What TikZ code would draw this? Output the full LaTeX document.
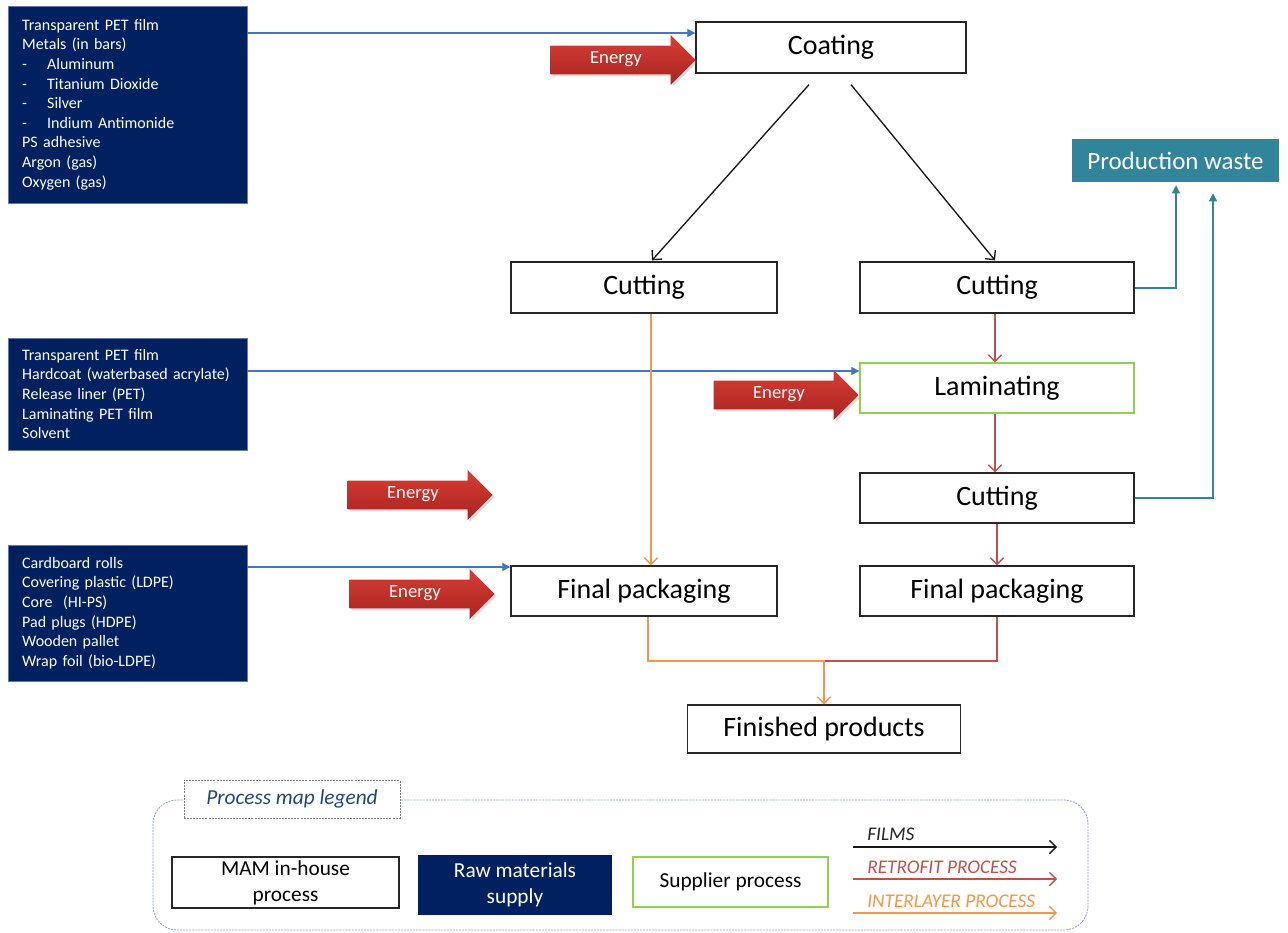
\documentclass[tikz,border=0pt]{standalone}
\usepackage{fontspec}
\setmainfont{Carlito}
\usetikzlibrary{arrows.meta,shapes.arrows,shadows,calc}
\definecolor{navy}{RGB}{0,32,96}
\definecolor{flowblue}{RGB}{68,114,196}
\definecolor{wteal}{RGB}{49,133,155}
\definecolor{retro}{RGB}{192,80,77}
\definecolor{inter}{RGB}{247,150,70}
\definecolor{suppl}{RGB}{146,208,80}
\definecolor{enlight}{RGB}{214,62,52}
\definecolor{endark}{RGB}{168,36,32}
\definecolor{legline}{RGB}{140,160,190}
\definecolor{legtext}{RGB}{31,73,125}
\begin{document}
\begin{tikzpicture}[x=0.75pt,y=-0.75pt,
 proc/.style={draw=black!85, line width=1pt, fill=white, inner sep=0pt, font=\fontsize{21}{25}\selectfont},
 supp/.style={proc, draw=suppl},
 raw/.style={fill=navy, draw=navy!60!white, line width=0.5pt, text=white, align=left, text width=158pt, inner xsep=10.5pt, inner ysep=0pt, font=\fontsize{12}{14.7}\selectfont},
 energy/.style={single arrow, single arrow head extend=8pt, minimum height=108.75pt, inner ysep=5.8pt, inner xsep=4pt, text height=7pt, text depth=2.5pt, text=white, font=\fontsize{14}{16}\selectfont, top color=enlight, bottom color=endark, draw=none, drop shadow={opacity=0.25, shadow xshift=1.5pt, shadow yshift=-1.5pt}, anchor=tip},
 filmarr/.style={draw=black!90, line width=1pt, -{Straight Barb[length=5pt,width=10pt]}},
 retroarr/.style={draw=retro, line width=1pt, -{Straight Barb[length=5pt,width=10pt]}},
 interarr/.style={draw=inter, line width=1pt, -{Straight Barb[length=5pt,width=10pt]}},
 supplyarr/.style={draw=flowblue, line width=0.9pt, -{Triangle[length=6pt,width=6pt]}},
 wastearr/.style={draw=wteal, line width=1pt, -{Triangle[length=6pt,width=6pt]}},
 legbox/.style={minimum width=#1, inner sep=0pt, align=center, font=\fontsize{16}{19.5}\selectfont},
 leglabel/.style={anchor=base west, inner sep=0pt, font=\itshape\fontsize{14.5}{17}\selectfont}
]
\useasboundingbox (0,0) rectangle (1288,932);
\fill[white] (0,0) rectangle (1288,932);

% raw material boxes
\node[raw, minimum height=147.75pt] (raw1) at (127.5,104.5) {Transparent PET film\\Metals (in bars)\\
\makebox[18.75pt][l]{-}Aluminum\\
\makebox[18.75pt][l]{-}Titanium Dioxide\\
\makebox[18.75pt][l]{-}Silver\\
\makebox[18.75pt][l]{-}Indium Antimonide\\
PS adhesive\\Argon (gas)\\Oxygen (gas)};
\node[raw, minimum height=84pt] (raw2) at (127.5,394) {Transparent PET film\\Hardcoat (waterbased acrylate)\\Release liner (PET)\\Laminating PET film\\Solvent};
\node[raw, minimum height=102pt] (raw3) at (127.5,613) {Cardboard rolls\\Covering plastic (LDPE)\\Core~~(HI-PS)\\Pad plugs (HDPE)\\Wooden pallet\\Wrap foil (bio-LDPE)};

% process boxes
\node[proc, minimum width=202.5pt, minimum height=38.25pt] (coat) at (831,47.5) {Coating};
\node[proc, minimum width=199.5pt, minimum height=38.25pt] (cut1) at (644,287.5) {Cutting};
\node[proc, minimum width=205.5pt, minimum height=38.25pt] (cut2) at (997,287.5) {Cutting};
\node[supp, minimum width=205.5pt, minimum height=37.5pt] (lam) at (997,388) {Laminating};
\node[proc, minimum width=205.5pt, minimum height=37.5pt] (cut3) at (997,498) {Cutting};
\node[proc, minimum width=199.5pt, minimum height=37.5pt] (fp1) at (644,591) {Final packaging};
\node[proc, minimum width=205.5pt, minimum height=37.5pt] (fp2) at (997,591) {Final packaging};
\node[proc, minimum width=204.75pt, minimum height=36pt] (fin) at (824,729) {Finished products};
\node[fill=wteal, text=white, minimum width=155.25pt, minimum height=32.25pt, inner sep=0pt, font=\fontsize{18.7}{22}\selectfont] (prod) at (1175.5,160.5) {Production waste};

% energy arrows
\node[energy] (en1) at (696,60) {Energy};
\node[energy] (en2) at (859,395) {Energy};
\node[energy] (en3) at (493,495) {Energy};
\node[energy] (en4) at (495,594) {Energy};

% supply connectors
\draw[supplyarr] (raw1.east |- 0,33) -- (coat.west |- 0,33);
\draw[supplyarr] (raw2.east |- 0,371) -- (lam.west |- 0,371);
\draw[supplyarr] (raw3.east |- 0,567) -- (fp1.west |- 0,567);

% film connectors
\draw[filmarr] ($(coat.south)+(-22,11)$) -- ($(cut1.north)+(8,-1)$);
\draw[filmarr] ($(coat.south)+(20,11)$) -- ($(cut2.north)+(-2,-1)$);

% interlayer
\draw[interarr] ($(cut1.south)+(7,0)$) -- ($(fp1.north)+(7,0)$);
% retrofit
\draw[retroarr] ($(cut2.south)+(-2,0)$) -- ($(lam.north)+(-2,0)$);
\draw[retroarr] ($(lam.south)+(-2,0)$) -- ($(cut3.north)+(-2,0)$);
\draw[retroarr] (cut3.south) -- (fp2.north);

% waste
\draw[wastearr] (cut2.east |- 0,288) -| ($(prod.south)+(0.5,3)$);
\draw[wastearr] (cut3.east |- 0,498) -| ($(prod.south)+(37.5,11)$);

% merge to finished
\coordinate (merge) at (fin.north |- 0,661);
\draw[draw=retro, line width=1pt] (fp2.south) |- (merge);
\draw[interarr] ($(fp1.south)+(4,0)$) |- (merge) -- (fin.north);

% legend
\draw[legline, dash pattern=on 1.5pt off 0.8pt, line width=0.6pt, rounded corners=18pt] (153,800) rectangle (1088,930);
\node[draw=gray, dash pattern=on 1.5pt off 0.8pt, fill=white, minimum width=162pt, minimum height=28.5pt, inner sep=0pt, font=\itshape\fontsize{16}{19}\selectfont, text=legtext] (legtitle) at (292,799) {Process map legend};
\node[proc, legbox=170.25pt, minimum height=38.25pt] (legmam) at (285.5,882.5) {MAM in-house\\process};
\node[fill=navy, text=white, legbox=145.5pt, minimum height=45pt] (legraw) at (515,885) {Raw materials\\supply};
\node[supp, legbox=146.25pt, minimum height=37.5pt] (legsup) at (730.5,882) {Supplier process};

\coordinate (f0) at (853,847); \coordinate (f1) at (1057,847);
\coordinate (r0) at (853,879); \coordinate (r1) at (1057,879);
\coordinate (i0) at (853,913); \coordinate (i1) at (1057,913);
\draw[filmarr] (f0) -- (f1);
\draw[retroarr] (r0) -- (r1);
\draw[interarr] (i0) -- (i1);
\node[leglabel, text=black!85] (lf) at (867,840) {FILMS};
\node[leglabel, text=retro] (lr) at (867,873) {RETROFIT PROCESS};
\node[leglabel, text=inter] (li) at (867,907) {INTERLAYER PROCESS};
\end{tikzpicture}
\end{document}
